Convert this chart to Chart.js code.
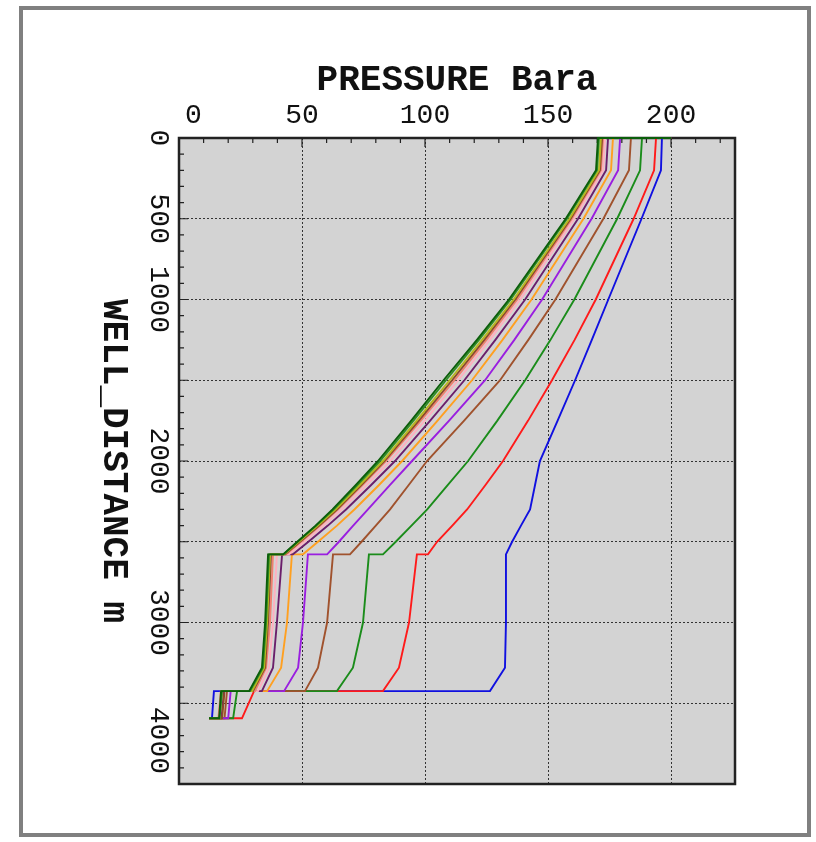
<!DOCTYPE html>
<html lang="en">
<head>
    <meta charset="UTF-8">
    <title>Pressure vs well distance</title>
    <script src="https://cdn.jsdelivr.net/npm/chart.js@4.4.0/dist/chart.umd.min.js"></script>
    <style>
        html, body {
            margin: 0;
            padding: 0;
            background: #fff;
        }

        .frame {
            position: absolute;
            left: 19px;
            top: 6px;
            width: 784px;
            height: 823px;
            border: 4px solid #808080;
        }

        canvas {
            position: absolute;
            left: 0;
            top: 0;
        }
    </style>
</head>
<body>
    <div class="frame"></div>
    <canvas id="chart" width="816" height="842"></canvas>

    <script>
        // depth of every point (m); repeated depths are the pressure steps
        const depths = [0, 0, 200, 500, 1000, 1250, 1500, 1750, 2000, 2150, 2300, 2400, 2500, 2578, 2578, 3000, 3280, 3425, 3425, 3593, 3593];

        // pressure (bara) at each depth above, one array per curve
        const darkGreen = [200, 170.3, 169.5, 157.2, 134.1, 121.1, 107.5, 94.4, 80.9, 71.8, 62.4, 55.5, 48.1, 42.3, 36.2, 35.0, 33.7, 28.5, 17.1, 16.3, 12.2];
        const forestGreen = [200, 170.7, 169.9, 157.7, 134.8, 121.9, 108.5, 95.3, 81.7, 72.4, 62.8, 55.8, 48.2, 42.5, 36.6, 35.4, 34.1, 28.9, 17.5, 16.5, 12.2];
        const olive = [200, 171.5, 170.7, 158.7, 136.0, 123.2, 110.0, 96.6, 82.9, 73.4, 63.6, 56.4, 48.7, 42.7, 37.0, 35.8, 34.6, 29.7, 17.5, 16.5, 12.2];
        const darkBrown = [200, 172.0, 171.1, 159.2, 136.7, 124.1, 111.0, 97.5, 83.5, 74.0, 64.2, 57.0, 49.2, 43.1, 37.4, 36.2, 35.0, 30.1, 18.5, 17.5, 12.2];
        const salmon = [200, 172.4, 171.5, 159.7, 137.5, 125.0, 112.0, 98.3, 84.1, 74.5, 64.6, 57.4, 49.6, 43.5, 38.2, 37.0, 35.4, 30.9, 17.0, 16.0, 12.2];
        const pink = [200, 173.2, 172.4, 160.7, 138.7, 126.3, 113.5, 99.9, 85.8, 76.1, 66.1, 58.8, 50.9, 44.7, 39.8, 38.2, 36.6, 32.1, 17.5, 16.5, 12.2];
        const plum = [200, 174.4, 173.6, 162.2, 140.7, 128.6, 116.0, 102.1, 87.8, 78.0, 67.9, 60.5, 52.6, 46.3, 41.9, 39.8, 38.2, 33.7, 18.0, 17.0, 12.2];
        const orange = [200, 176.4, 175.6, 164.4, 143.3, 131.5, 119.1, 105.1, 90.7, 81.2, 71.3, 64.2, 56.5, 50.4, 45.9, 43.9, 41.5, 35.8, 18.3, 17.5, 12.2];
        const violet = [200, 179.3, 178.5, 167.7, 147.6, 136.3, 124.4, 109.8, 94.7, 85.7, 76.8, 70.8, 65.0, 60.2, 52.4, 50.4, 48.4, 42.7, 21.0, 20.0, 12.2];
        const sienna = [200, 183.7, 182.9, 172.5, 153.0, 142.0, 130.5, 115.9, 100.8, 93.3, 85.8, 80.0, 74.2, 69.5, 62.6, 60.2, 56.5, 51.2, 19.5, 18.5, 12.2];
        const green = [200, 188.2, 187.4, 178.1, 160.7, 151.0, 140.7, 129.4, 117.5, 109.2, 100.9, 94.5, 88.1, 82.9, 77.2, 74.8, 70.7, 64.2, 23.6, 22.0, 12.2];
        const red = [200, 193.9, 193.1, 184.8, 169.4, 160.8, 151.6, 141.9, 131.7, 124.5, 117.1, 111.1, 104.9, 101.2, 96.7, 93.5, 89.4, 82.9, 30.5, 25.6, 12.2];
        const blue = [200, 196.3, 195.9, 188.0, 174.5, 167.8, 161.0, 153.9, 146.7, 144.7, 142.7, 139.0, 135.4, 132.9, 132.9, 132.9, 132.5, 126.4, 14.2, 13.4, 12.2];

        const xTickLabels = [0, 50, 100, 150, 200];
        const yTickLabels = [0, 500, 1000, 2000, 3000, 4000];

        // first entry is drawn on top
        const curves = [
            { data: darkGreen, color: '#0b5e0b' },
            { data: forestGreen, color: '#2f8f24' },
            { data: olive, color: '#b8b820' },
            { data: darkBrown, color: '#8b4a2b' },
            { data: salmon, color: '#f08070' },
            { data: pink, color: '#ffb0c0' },
            { data: plum, color: '#6b1f6b' },
            { data: orange, color: '#ffa020' },
            { data: violet, color: '#9a1ee0' },
            { data: sienna, color: '#a0522d' },
            { data: green, color: '#1a8c1a' },
            { data: red, color: '#ff1a1a' },
            { data: blue, color: '#1010e0' }
        ];

        const decorations = {
            id: 'decorations',
            beforeDraw(chart) {
                const { ctx, chartArea: a } = chart;
                ctx.save();
                ctx.fillStyle = '#d3d3d3';
                ctx.fillRect(a.left, a.top, a.right - a.left, a.bottom - a.top);
                ctx.restore();
            },
            beforeDatasetsDraw(chart) {
                const { ctx, chartArea: a } = chart;
                ctx.save();
                ctx.strokeStyle = '#222';
                ctx.lineWidth = 2.5;
                ctx.strokeRect(a.left, a.top, a.right - a.left, a.bottom - a.top);

                // inward tick marks on top and left edges
                const xs = chart.scales.x, ys = chart.scales.y;
                ctx.lineWidth = 1.2;
                ctx.beginPath();
                for (let v = 10; v < xs.max; v += 10) {
                    const px = xs.getPixelForValue(v);
                    const len = v % 50 === 0 ? 9 : 5;
                    ctx.moveTo(px, a.top);
                    ctx.lineTo(px, a.top + len);
                }
                for (let v = 100; v < ys.max; v += 100) {
                    const py = ys.getPixelForValue(v);
                    const len = v % 500 === 0 ? 9 : 5;
                    ctx.moveTo(a.left, py);
                    ctx.lineTo(a.left + len, py);
                }
                ctx.stroke();
                ctx.restore();
            },
            afterDraw(chart) {
                const { ctx, chartArea: a } = chart;
                const xs = chart.scales.x, ys = chart.scales.y;
                ctx.save();
                ctx.fillStyle = '#111';
                ctx.textAlign = 'center';
                ctx.textBaseline = 'middle';

                ctx.font = '28px "Liberation Mono"';
                xTickLabels.forEach(v => {
                    const t = String(v);
                    const w = ctx.measureText(t).width;
                    let px = xs.getPixelForValue(v);
                    if (px - w / 2 < a.left + 6) px = a.left + 6 + w / 2;
                    ctx.fillText(t, px, 116);
                });
                yTickLabels.forEach(v => {
                    const t = String(v);
                    const w = ctx.measureText(t).width;
                    let py = ys.getPixelForValue(v);
                    if (py + w / 2 > a.bottom - 10) py = a.bottom - 10 - w / 2;
                    ctx.save();
                    ctx.translate(158, py);
                    ctx.rotate(Math.PI / 2);
                    ctx.fillText(t, 0, 0);
                    ctx.restore();
                });

                ctx.font = 'bold 36px "Liberation Mono"';
                ctx.fillText('PRESSURE Bara', (a.left + a.right) / 2, 81);
                ctx.save();
                ctx.translate(113, (a.top + a.bottom) / 2);
                ctx.rotate(Math.PI / 2);
                ctx.fillText('WELL_DISTANCE m', 0, 0);
                ctx.restore();
                ctx.restore();
            }
        };

        new Chart(document.getElementById('chart'), {
            type: 'scatter',
            data: {
                datasets: curves.map(c => ({
                    data: depths.map((d, i) => ({ x: c.data[i], y: d })),
                    showLine: true,
                    borderColor: c.color,
                    backgroundColor: c.color,
                    borderWidth: 1.9,
                    pointRadius: 0,
                    tension: 0,
                    clip: 3
                }))
            },
            options: {
                responsive: false,
                animation: false,
                layout: {
                    padding: { left: 179, top: 138, right: 81, bottom: 58 }
                },
                plugins: {
                    legend: { display: false },
                    tooltip: { enabled: false }
                },
                scales: {
                    x: {
                        type: 'linear',
                        position: 'top',
                        min: 0,
                        max: 226,
                        ticks: { display: false, stepSize: 50, includeBounds: false },
                        grid: { color: '#333', lineWidth: 1, drawTicks: false },
                        border: { display: false, dash: [2, 2] }
                    },
                    y: {
                        type: 'linear',
                        reverse: true,
                        min: 0,
                        max: 4000,
                        ticks: { display: false, stepSize: 500 },
                        grid: { color: '#333', lineWidth: 1, drawTicks: false },
                        border: { display: false, dash: [2, 2] }
                    }
                }
            },
            plugins: [decorations]
        });
    </script>
</body>
</html>
